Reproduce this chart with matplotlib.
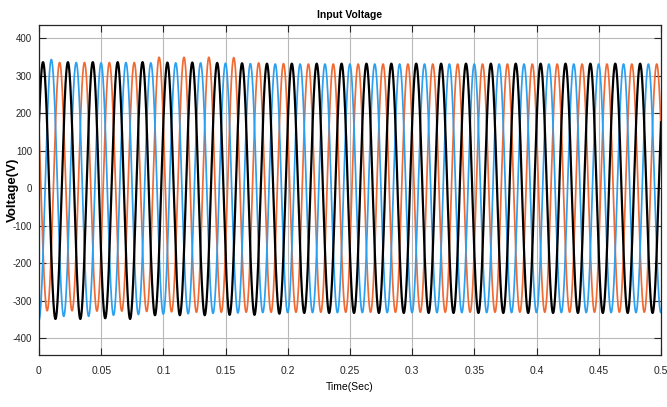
"""Three-phase input voltage, 50 Hz, 0 to 0.5 s."""
import matplotlib
matplotlib.use("Agg")
import matplotlib.pyplot as plt
import numpy as np

plt.rcParams.update({"font.family": "Liberation Sans", "font.size": 8,
                     "axes.unicode_minus": False})

FREQ = 50.0            # Hz
T_END = 0.5            # s
# phase angle of each line at t = 0 (degrees)
PHASE_DEG = {"black": 32.0, "blue": 272.0, "orange": 152.0}

# peak values, one per cycle (cycle index k = 0..25)
black_pos = [336, 336, 336, 336, 336, 335, 335, 334, 333, 332, 332, 332, 332,
             332, 332, 332, 332, 332, 332, 332, 332, 332, 332, 332, 332, 332]
black_neg = [-348, -348, -346, -348, -338, -338, -338, -337, -337, -334, -332, -332, -332,
             -332, -332, -332, -332, -332, -332, -332, -332, -332, -332, -332, -332, -332]
blue_pos = [334, 343, 335, 334, 335, 334, 334, 334, 333, 332, 331, 331, 331,
            331, 331, 331, 331, 331, 331, 331, 331, 331, 331, 331, 331, 331]
blue_neg = [-352, -341, -341, -338, -336, -335, -334, -333, -332, -331, -331, -331, -331,
            -331, -331, -331, -331, -331, -331, -331, -331, -331, -331, -331, -331, -331]
orange_pos = [334, 335, 335, 335, 335, 349, 349, 349, 348, 334, 332, 331, 331,
              331, 331, 331, 331, 331, 331, 331, 331, 331, 331, 331, 331, 331]
orange_neg = [-326, -326, -327, -327, -328, -329, -330, -330, -330, -330, -330, -330, -330,
              -330, -330, -330, -330, -330, -330, -330, -330, -330, -330, -330, -330, -330]

AMPS = {
    "black": (black_pos, black_neg),
    "blue": (blue_pos, blue_neg),
    "orange": (orange_pos, orange_neg),
}
COLORS = {"black": "#000000", "blue": "#2b9ff0", "orange": "#f06a34"}
WIDTHS = {"black": 1.6, "blue": 1.25, "orange": 1.25}

x_ticks = [0, 0.05, 0.1, 0.15, 0.2, 0.25, 0.3, 0.35, 0.4, 0.45, 0.5]
x_labels = ["0", "0.05", "0.1", "0.15", "0.2", "0.25", "0.3", "0.35", "0.4", "0.45", "0.5"]
y_ticks = [-400, -300, -200, -100, 0, 100, 200, 300, 400]


def phase_wave(t, name):
    pos, neg = AMPS[name]
    ang = 2 * np.pi * FREQ * t + np.deg2rad(PHASE_DEG[name])
    k = np.clip(np.floor(ang / (2 * np.pi)).astype(int), 0, len(pos) - 1)
    s = np.sin(ang)
    amp = np.where(s >= 0, np.asarray(pos)[k], -np.asarray(neg)[k])
    return amp * s


t = np.linspace(0, T_END, 20001)

fig = plt.figure(figsize=(6.67, 4.07), dpi=100)
ax = fig.add_axes([39 / 667, 52 / 407, 622 / 667, 330 / 407])

for name in ["orange", "blue", "black"]:
    ax.plot(t, phase_wave(t, name), color=COLORS[name], linewidth=WIDTHS[name])

ax.set_xlim(0, T_END)
ax.set_ylim(-444, 435)
ax.set_xticks(x_ticks)
ax.set_xticklabels(x_labels)
ax.set_yticks(y_ticks)
ax.grid(True, color="#b8b8b8", linewidth=0.8)
ax.set_axisbelow(True)
ax.tick_params(direction="in", top=True, right=True, length=5, width=0.8,
               colors="#262626", labelsize=7.5)
ax.tick_params(axis="y", pad=5, labelsize=7)
ax.tick_params(axis="x", pad=8)
for sp in ax.spines.values():
    sp.set_color("#262626")
    sp.set_linewidth(0.9)

ax.set_title("Input Voltage", fontsize=7.5, fontweight="bold", pad=5)
ax.set_xlabel("Time(Sec)", fontsize=7.5, labelpad=4)
ax.set_ylabel("Voltage(V)", fontsize=9.5, fontweight="bold")
ax.yaxis.set_label_coords(-(39 - 19) / 622, 0.5)

fig.savefig("out.png", dpi=100)
